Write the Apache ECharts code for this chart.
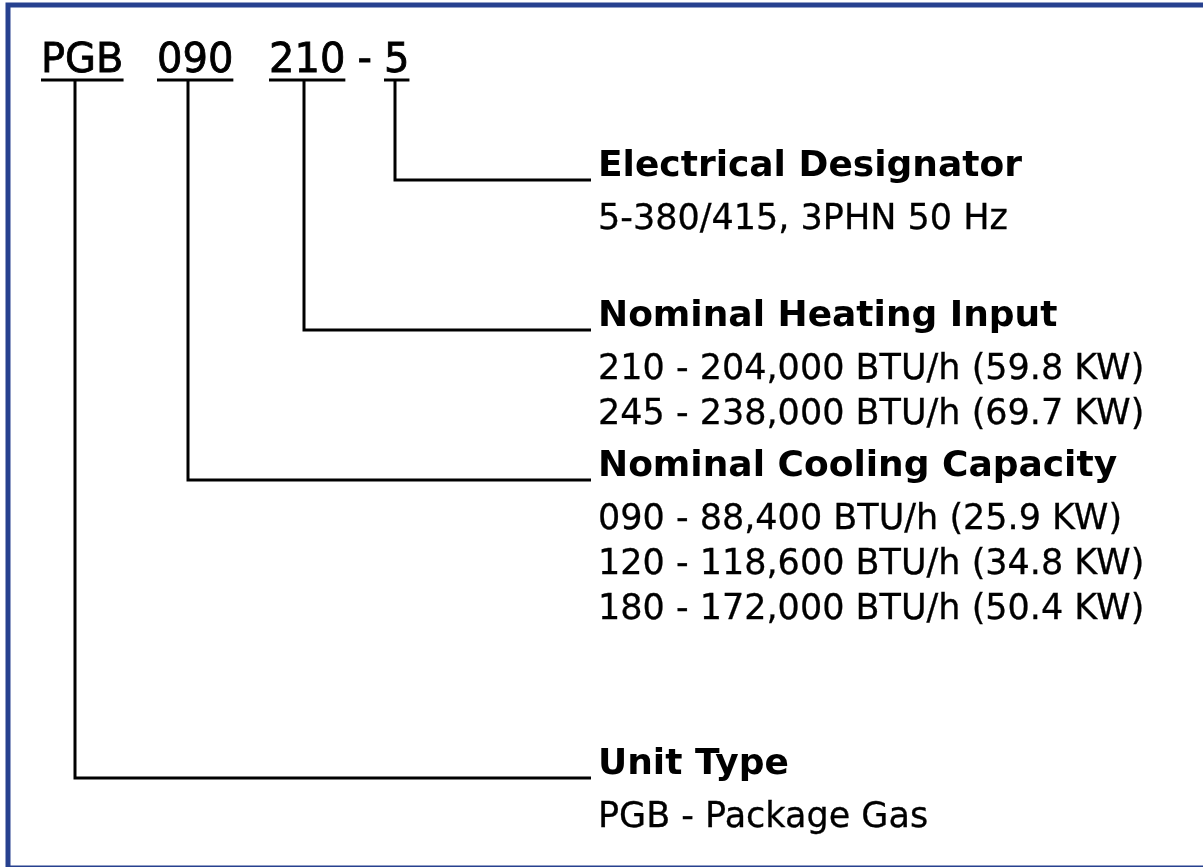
<!DOCTYPE html>
<html>
<head>
<meta charset="utf-8">
<script src="https://cdn.jsdelivr.net/npm/echarts@6/dist/echarts.min.js"></script>
<style>
html,body{margin:0;padding:0;background:#fff;}
#main{width:1203px;height:867px;}
</style>
</head>
<body>
<div id="main"></div>
<script>
// 型号编码各段
var codeParts = ['PGB', '090', '210', '5'];
// 各段说明（与编码顺序一致）
var headings = ['Unit Type', 'Nominal Cooling Capacity', 'Nominal Heating Input', 'Electrical Designator'];
var unitTypeLines = ['PGB - Package Gas'];
var coolingLines = ['090 - 88,400 BTU/h (25.9 KW)', '120 - 118,600 BTU/h (34.8 KW)', '180 - 172,000 BTU/h (50.4 KW)'];
var heatingLines = ['210 - 204,000 BTU/h (59.8 KW)', '245 - 238,000 BTU/h (69.7 KW)'];
var electricalLines = ['5-380/415, 3PHN 50 Hz'];
var detailLines = [unitTypeLines, coolingLines, heatingLines, electricalLines];

// 版面
var W = 1203, H = 867;
var FONT = '"DejaVu Sans", Verdana, sans-serif';
var codeSize = 40, headSize = 36, bodySize = 35;
var codeX = [41, 157, 269, 384];
var codeMid = 62, underlineY = 80;
var leaderX = [75, 188, 304, 395];
var leaderY = [778, 480, 330, 180];
var leaderEnd = 591, textX = 598;
var lineGap = 45;

// 量文字宽度，用来画下划线
var cvs = document.createElement('canvas').getContext('2d');
cvs.font = codeSize + 'px ' + FONT;

var series = [];
var textData = [];

for (var i = 0; i < codeParts.length; i++) {
    var w = cvs.measureText(codeParts[i]).width;
    // 下划线
    series.push({
        type: 'line', symbol: 'none', silent: true,
        lineStyle: {color: '#000', width: 3},
        data: [[codeX[i], underlineY], [codeX[i] + w, underlineY]]
    });
    // 引线
    series.push({
        type: 'line', symbol: 'none', silent: true,
        lineStyle: {color: '#000', width: 3, join: 'miter'},
        data: [[leaderX[i], underlineY], [leaderX[i], leaderY[i]], [leaderEnd, leaderY[i]]]
    });
    textData.push({x: codeX[i], y: codeMid, text: codeParts[i], kind: 'code'});
    textData.push({x: textX, y: leaderY[i] - 13, text: headings[i], kind: 'head'});
    var ls = detailLines[i];
    for (var j = 0; j < ls.length; j++) {
        textData.push({x: textX, y: leaderY[i] + 40 + j * lineGap, text: ls[j], kind: 'body'});
    }
}
// 210 与 5 之间的横杠
var w210 = cvs.measureText(codeParts[2]).width;
textData.push({x: (codeX[2] + w210 + codeX[3]) / 2 - cvs.measureText('-').width / 2, y: codeMid, text: '-', kind: 'code'});

var fontMap = {
    code: 'normal ' + codeSize + 'px ' + FONT,
    head: 'bold ' + headSize + 'px ' + FONT,
    body: 'normal ' + bodySize + 'px ' + FONT
};
// 文字用 custom 系列，经坐标轴换算位置
series.push({
    type: 'custom', silent: true,
    data: textData.map(function (d, k) { return [d.x, d.y, k]; }),
    renderItem: function (params, api) {
        var d = textData[api.value(2)];
        var p = api.coord([api.value(0), api.value(1)]);
        return {
            type: 'text', x: p[0], y: p[1],
            style: {
                text: d.text, fill: '#000', font: fontMap[d.kind],
                align: 'left', verticalAlign: 'middle',
                stroke: d.kind == 'head' ? null : '#000',
                lineWidth: d.kind == 'code' ? 0.8 : 0.3
            }
        };
    }
});

var myChart = echarts.init(document.getElementById('main'));
myChart.setOption({
    backgroundColor: '#fff',
    animation: false,
    grid: {left: 0, right: 0, top: 0, bottom: 0},
    xAxis: {type: 'value', min: 0, max: W, show: false},
    yAxis: {type: 'value', min: 0, max: H, inverse: true, show: false},
    graphic: [{
        type: 'rect', silent: true,
        shape: {x: 8, y: 5, width: W + 20, height: H - 4},
        style: {fill: 'none', stroke: '#27418f', lineWidth: 5}
    }],
    series: series
});
</script>
</body>
</html>
